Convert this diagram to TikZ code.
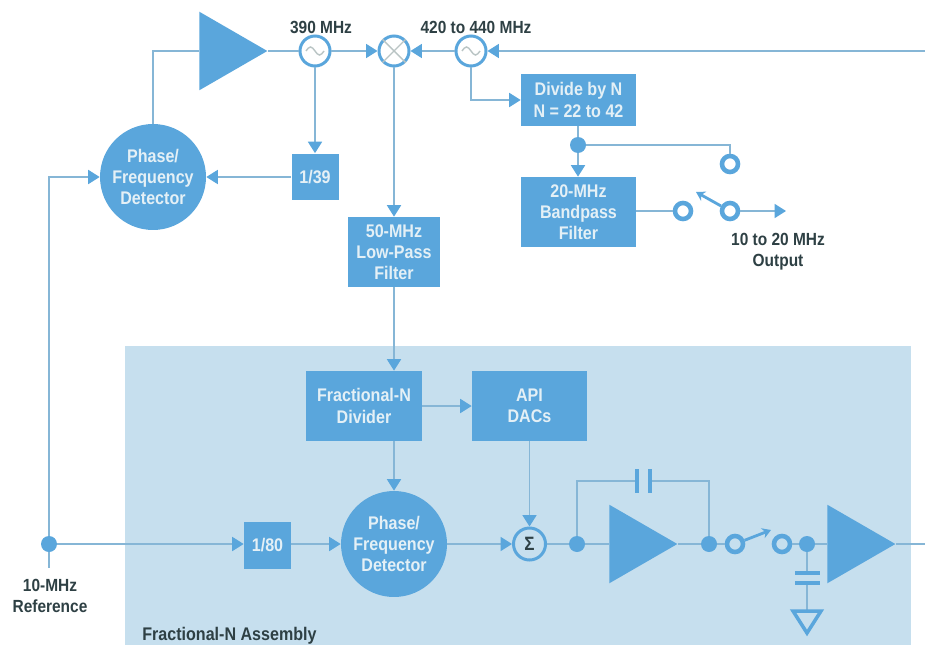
\documentclass[tikz,border=0pt]{standalone}
\usepackage{fontspec}
\setmainfont[FakeStretch=0.88]{Liberation Sans}
\usetikzlibrary{arrows.meta,positioning,shapes.geometric}
\definecolor{boxblue}{HTML}{5AA6DC}
\definecolor{wireblue}{HTML}{86B6D6}
\definecolor{panelblue}{HTML}{C6DFEE}
\definecolor{boxtext}{HTML}{E4F0F6}
\definecolor{labeltext}{HTML}{2E4044}
\definecolor{sinewave}{HTML}{B9C4C4}
\tikzset{
  wire/.style={draw=wireblue, line width=0.8pt},
  feed/.style={wire, -{Triangle[length=6.5pt,width=8pt,color=boxblue]}},
  blockbox/.style={rectangle, fill=boxblue, text=boxtext, font=\bfseries\fontsize{10.4}{12}\selectfont, align=center, inner sep=0pt},
  detector/.style={circle, fill=boxblue, text=boxtext, font=\bfseries\fontsize{10.4}{12}\selectfont, align=center, inner sep=0pt, minimum size=2.12cm},
  ringsym/.style={circle, draw=boxblue, fill=white, line width=1.7pt, inner sep=0pt, minimum size=0.6cm},
  amptri/.style={isosceles triangle, isosceles triangle apex angle=60, fill=boxblue, inner sep=0pt, minimum height=1.36cm, anchor=lower side},
  dotnode/.style={circle, fill=boxblue, inner sep=0pt, minimum size=0.32cm},
  contact/.style={circle, draw=boxblue, fill=white, line width=2.6pt, inner sep=0pt, minimum size=0.32cm},
  lab/.style={text=labeltext, font=\bfseries\fontsize{10}{12}\selectfont, align=center, inner sep=0pt},
  plate/.style={draw=boxblue, line width=2pt},
  arm/.style={draw=boxblue, line width=1.6pt, -{Stealth[length=5pt,width=6pt]}}
}
\begin{document}
\begin{tikzpicture}[x=0.02cm,y=-0.02cm]
  \useasboundingbox (0,0) rectangle (925,645);
  \fill[white] (0,0) rectangle (925,645);
  \fill[panelblue] (125,346) rectangle (911,645);

  % Upper loop
  \node[amptri] (ampa) at (199,51) {};
  \node[ringsym] (oscl) at (315,51) {};
  \node[ringsym] (mix) at (394,51) {};
  \node[ringsym] (osch) at (471,51) {};
  \node[detector] (pfda) at (153,177) {Phase/\\Frequency\\Detector};
  \node[blockbox, minimum width=0.94cm, minimum height=0.94cm] (divb) at (315,177) {1/39};
  \node[blockbox, minimum width=1.86cm, minimum height=1.4cm] (lpf) at (394,252) {50-MHz\\Low-Pass\\Filter};
  \node[blockbox, minimum width=2.3cm, minimum height=1.04cm] (divn) at (578.5,100) {Divide by N\\N = 22 to 42};
  \node[blockbox, minimum width=2.3cm, minimum height=1.4cm] (bpf) at (578.5,212) {20-MHz\\Bandpass\\Filter};
  \node[lab] (lbl) at (321,27) {390 MHz};
  \node[lab] (lbh) at (476,27) {420 to 440 MHz};
  \node[lab] (lbo) at (778,252) {10 to 20 MHz\\Output};

  % Output switch
  \node[dotnode] (tap) at (578,145) {};
  \node[contact] (ctop) at (730,164) {};
  \node[contact] (cleft) at (683,211) {};
  \node[contact] (cright) at (730,211) {};
  \coordinate (armend) at (696,192);
  \coordinate (outend) at (786,211);
  \coordinate (inright) at (925,51);

  % Fractional-N assembly
  \node[blockbox, minimum width=2.32cm, minimum height=1.4cm] (frac) at (364,406) {Fractional-N\\Divider};
  \node[blockbox, minimum width=2.3cm, minimum height=1.4cm] (api) at (529.5,406) {API\\DACs};
  \node[detector] (pfdb) at (394,544) {Phase/\\Frequency\\Detector};
  \node[blockbox, minimum width=0.94cm, minimum height=0.94cm] (dive) at (267.5,545) {1/80};
  \node[ringsym, fill=panelblue, minimum size=0.64cm, text=labeltext, font=\bfseries\fontsize{11}{12}\selectfont] (sum) at (529.5,544) {Σ};
  \node[dotnode] (dota) at (577,544) {};
  \node[amptri] (ampb) at (609,544) {};
  \node[dotnode] (dotb) at (709,544) {};
  \node[contact, fill=panelblue] (cin) at (735,544) {};
  \node[contact, fill=panelblue] (cout) at (782,544) {};
  \node[dotnode] (dotc) at (807,544) {};
  \node[amptri] (ampc) at (827,544) {};
  \coordinate (armfb) at (771,530);
  \coordinate (outb) at (925,544);
  \node[dotnode] (refdot) at (49,544) {};
  \coordinate (reftail) at (49,568);
  \node[lab] (lbr) at (50,596) {10-MHz\\Reference};
  \node[lab, anchor=west, font=\bfseries\fontsize{10.4}{12}\selectfont] (lba) at (142,636) {Fractional-N Assembly};

  % Wires, upper loop
  \draw[wire] (pfda.north) |- (ampa.lower side);
  \draw[wire] (ampa.apex) -- (oscl.west);
  \draw[feed] (oscl.east) -- (mix.west);
  \draw[feed] (osch.west) -- (mix.east);
  \draw[feed] (inright) -- (osch.east);
  \draw[feed] (oscl.south) -- (divb.north);
  \draw[feed] (divb.west) -- (pfda.east);
  \draw[feed] (mix.south) -- (lpf.north);
  \draw[feed] (osch.south) |- (divn.west);
  \draw[wire] (divn.south -| tap) -- (tap);
  \draw[feed] (tap) -- (tap |- bpf.north);
  \draw[wire] (tap) -| (ctop.north);
  \draw[wire] (bpf.east |- cleft) -- (cleft);
  \draw[feed] (cright) -- (outend);
  \draw[arm] (cright) -- (armend);

  % Wires, assembly
  \draw[feed] (lpf.south) -- (lpf.south |- frac.north);
  \draw[feed] (frac.east) -- (api.west);
  \draw[feed] (lpf.south |- frac.south) -- (pfdb.north);
  \draw[feed] (api.south) -- (sum.north);
  \draw[wire] (refdot) -- (reftail);
  \draw[feed] (refdot) |- (pfda.west);
  \draw[feed] (refdot) -- (dive.west |- refdot);
  \draw[feed] (dive.east |- pfdb) -- (pfdb.west);
  \draw[feed] (pfdb.east) -- (sum.west);
  \draw[wire] (sum) -- (dota);
  \draw[wire] (dota) -- (ampb.lower side);
  \draw[wire] (ampb.apex) -- (dotb);
  \draw[wire] (dotb) -- (cin);
  \draw[wire] (cout) -- (dotc);
  \draw[wire] (dotc) -- (ampc.lower side);
  \draw[wire] (ampc.apex) -- (outb);
  \draw[arm] (cin) -- (armfb);

  % Feedback capacitor
  \coordinate (capl) at (637,481);
  \coordinate (capr) at (650,481);
  \draw[wire] (dota) |- (capl);
  \draw[wire] (dotb) |- (capr);
  \draw[plate] (637,469) -- (637,493);
  \draw[plate] (650,469) -- (650,493);

  % Shunt capacitor and ground
  \coordinate (gndtop) at (807,611);
  \draw[wire] (dotc) -- (807,573);
  \draw[wire] (807,583) -- (gndtop);
  \draw[plate] (795,573) -- (820,573);
  \draw[plate] (795,583) -- (820,583);
  \draw[plate, line join=miter] (793,611) -- (821,611) -- (807,633) -- cycle;

  % Symbols inside the rings
  \draw[sinewave, line width=0.8pt] (mix.45) -- (mix.225);
  \draw[sinewave, line width=0.8pt] (mix.135) -- (mix.315);
  \foreach \osc in {oscl,osch} {
    \draw[sinewave, line width=0.8pt] (\osc.center) ++(-9,0) sin ++(4.5,-4) cos ++(4.5,4) sin ++(4.5,4) cos ++(4.5,-4);
  }
\end{tikzpicture}
\end{document}
